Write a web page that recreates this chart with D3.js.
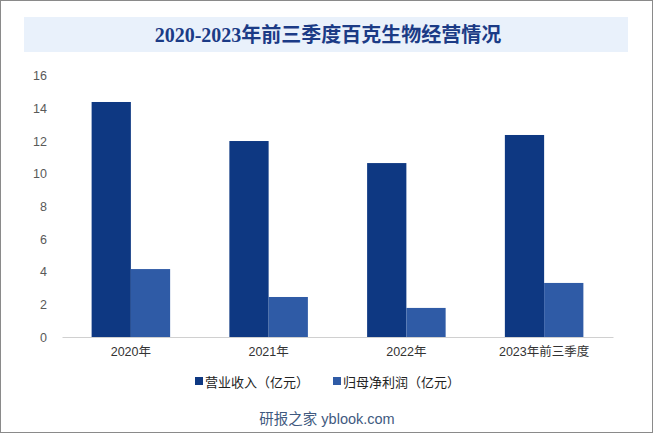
<!DOCTYPE html>
<html>
<head>
	<meta charset="utf-8">
	<script src="https://cdn.jsdelivr.net/npm/d3@7/dist/d3.min.js"></script>
	<style>
		body { margin: 0; background: #fff; }
		text { font-family: "Liberation Sans", "Noto Sans CJK SC", sans-serif; }
	</style>
</head>
<body>
	<svg id="chart" width="654" height="434"></svg>

	<script type="text/javascript">
		var categories = ["2020年", "2021年", "2022年", "2023年前三季度"];
		var seriesNames = ["营业收入（亿元）", "归母净利润（亿元）"];
		var revenue = [14.39, 12.0, 10.65, 12.37];
		var netProfit = [4.16, 2.45, 1.78, 3.31];
		var yTicks = [0, 2, 4, 6, 8, 10, 12, 14, 16];
		var colors = ["#0e3882", "#2f5ba6"];

		var svg = d3.select("#chart");
		var width = 654, height = 434;

		// outer frame
		svg.append("rect")
			.attr("x", 0.5).attr("y", 0.5)
			.attr("width", width - 2).attr("height", height - 2)
			.attr("fill", "#fff")
			.attr("stroke", "#8a8a8a");

		// title band
		svg.append("rect")
			.attr("x", 24).attr("y", 17)
			.attr("width", 604).attr("height", 35)
			.attr("fill", "#e9f1fb");
		svg.append("text")
			.attr("x", 328).attr("y", 41.5)
			.attr("text-anchor", "middle")
			.style("font-family", "'Liberation Serif', 'Noto Sans CJK SC', serif")
			.style("font-weight", "bold")
			.style("font-size", "20px")
			.attr("fill", "#1b3b86")
			.text("2020-2023年前三季度百克生物经营情况");

		var x0 = d3.scaleBand().domain(categories).range([62, 613]).paddingInner(0.43).paddingOuter(0.215);
		var x1 = d3.scaleBand().domain([0, 1]).range([0, x0.bandwidth()]);
		var y = d3.scaleLinear().domain([0, 16]).range([337, 75.7]);

		// y axis labels
		var yAxis = d3.axisLeft(y).tickValues(yTicks).tickSize(0).tickPadding(0);
		var gy = svg.append("g").attr("transform", "translate(47,0)").call(yAxis);
		gy.select(".domain").remove();
		gy.selectAll("text").style("font-size", "12.5px").attr("fill", "#595959");

		// bars
		var data = categories.map(function(c, i) { return { cat: c, vals: [revenue[i], netProfit[i]] }; });
		var groups = svg.selectAll("g.grp").data(data).enter().append("g")
			.attr("class", "grp")
			.attr("transform", function(d) { return "translate(" + x0(d.cat) + ",0)"; });
		groups.selectAll("rect").data(function(d) { return d.vals; }).enter().append("rect")
			.attr("x", function(d, i) { return x1(i); })
			.attr("y", function(d) { return y(d); })
			.attr("width", x1.bandwidth())
			.attr("height", function(d) { return y(0) - y(d); })
			.attr("fill", function(d, i) { return colors[i]; });

		// x axis
		var xAxis = d3.axisBottom(x0).tickSize(0).tickPadding(10);
		var gx = svg.append("g").attr("transform", "translate(0," + y(0) + ")").call(xAxis);
		gx.select(".domain").attr("stroke", "#d0d0d0");
		gx.selectAll("text").style("font-size", "12.5px").attr("fill", "#333");

		// legend
		var legendX = [195, 333];
		seriesNames.forEach(function(name, i) {
			svg.append("rect")
				.attr("x", legendX[i]).attr("y", 377)
				.attr("width", 8).attr("height", 8)
				.attr("fill", colors[i]);
			svg.append("text")
				.attr("x", legendX[i] + 10).attr("y", 386.5)
				.style("font-size", "13px")
				.attr("fill", "#222")
				.text(name);
		});

		// source
		svg.append("text")
			.attr("x", 327).attr("y", 424)
			.attr("text-anchor", "middle")
			.style("font-size", "14.5px")
			.attr("fill", "#3f5a80")
			.text("研报之家 yblook.com");
	</script>
</body>
</html>
